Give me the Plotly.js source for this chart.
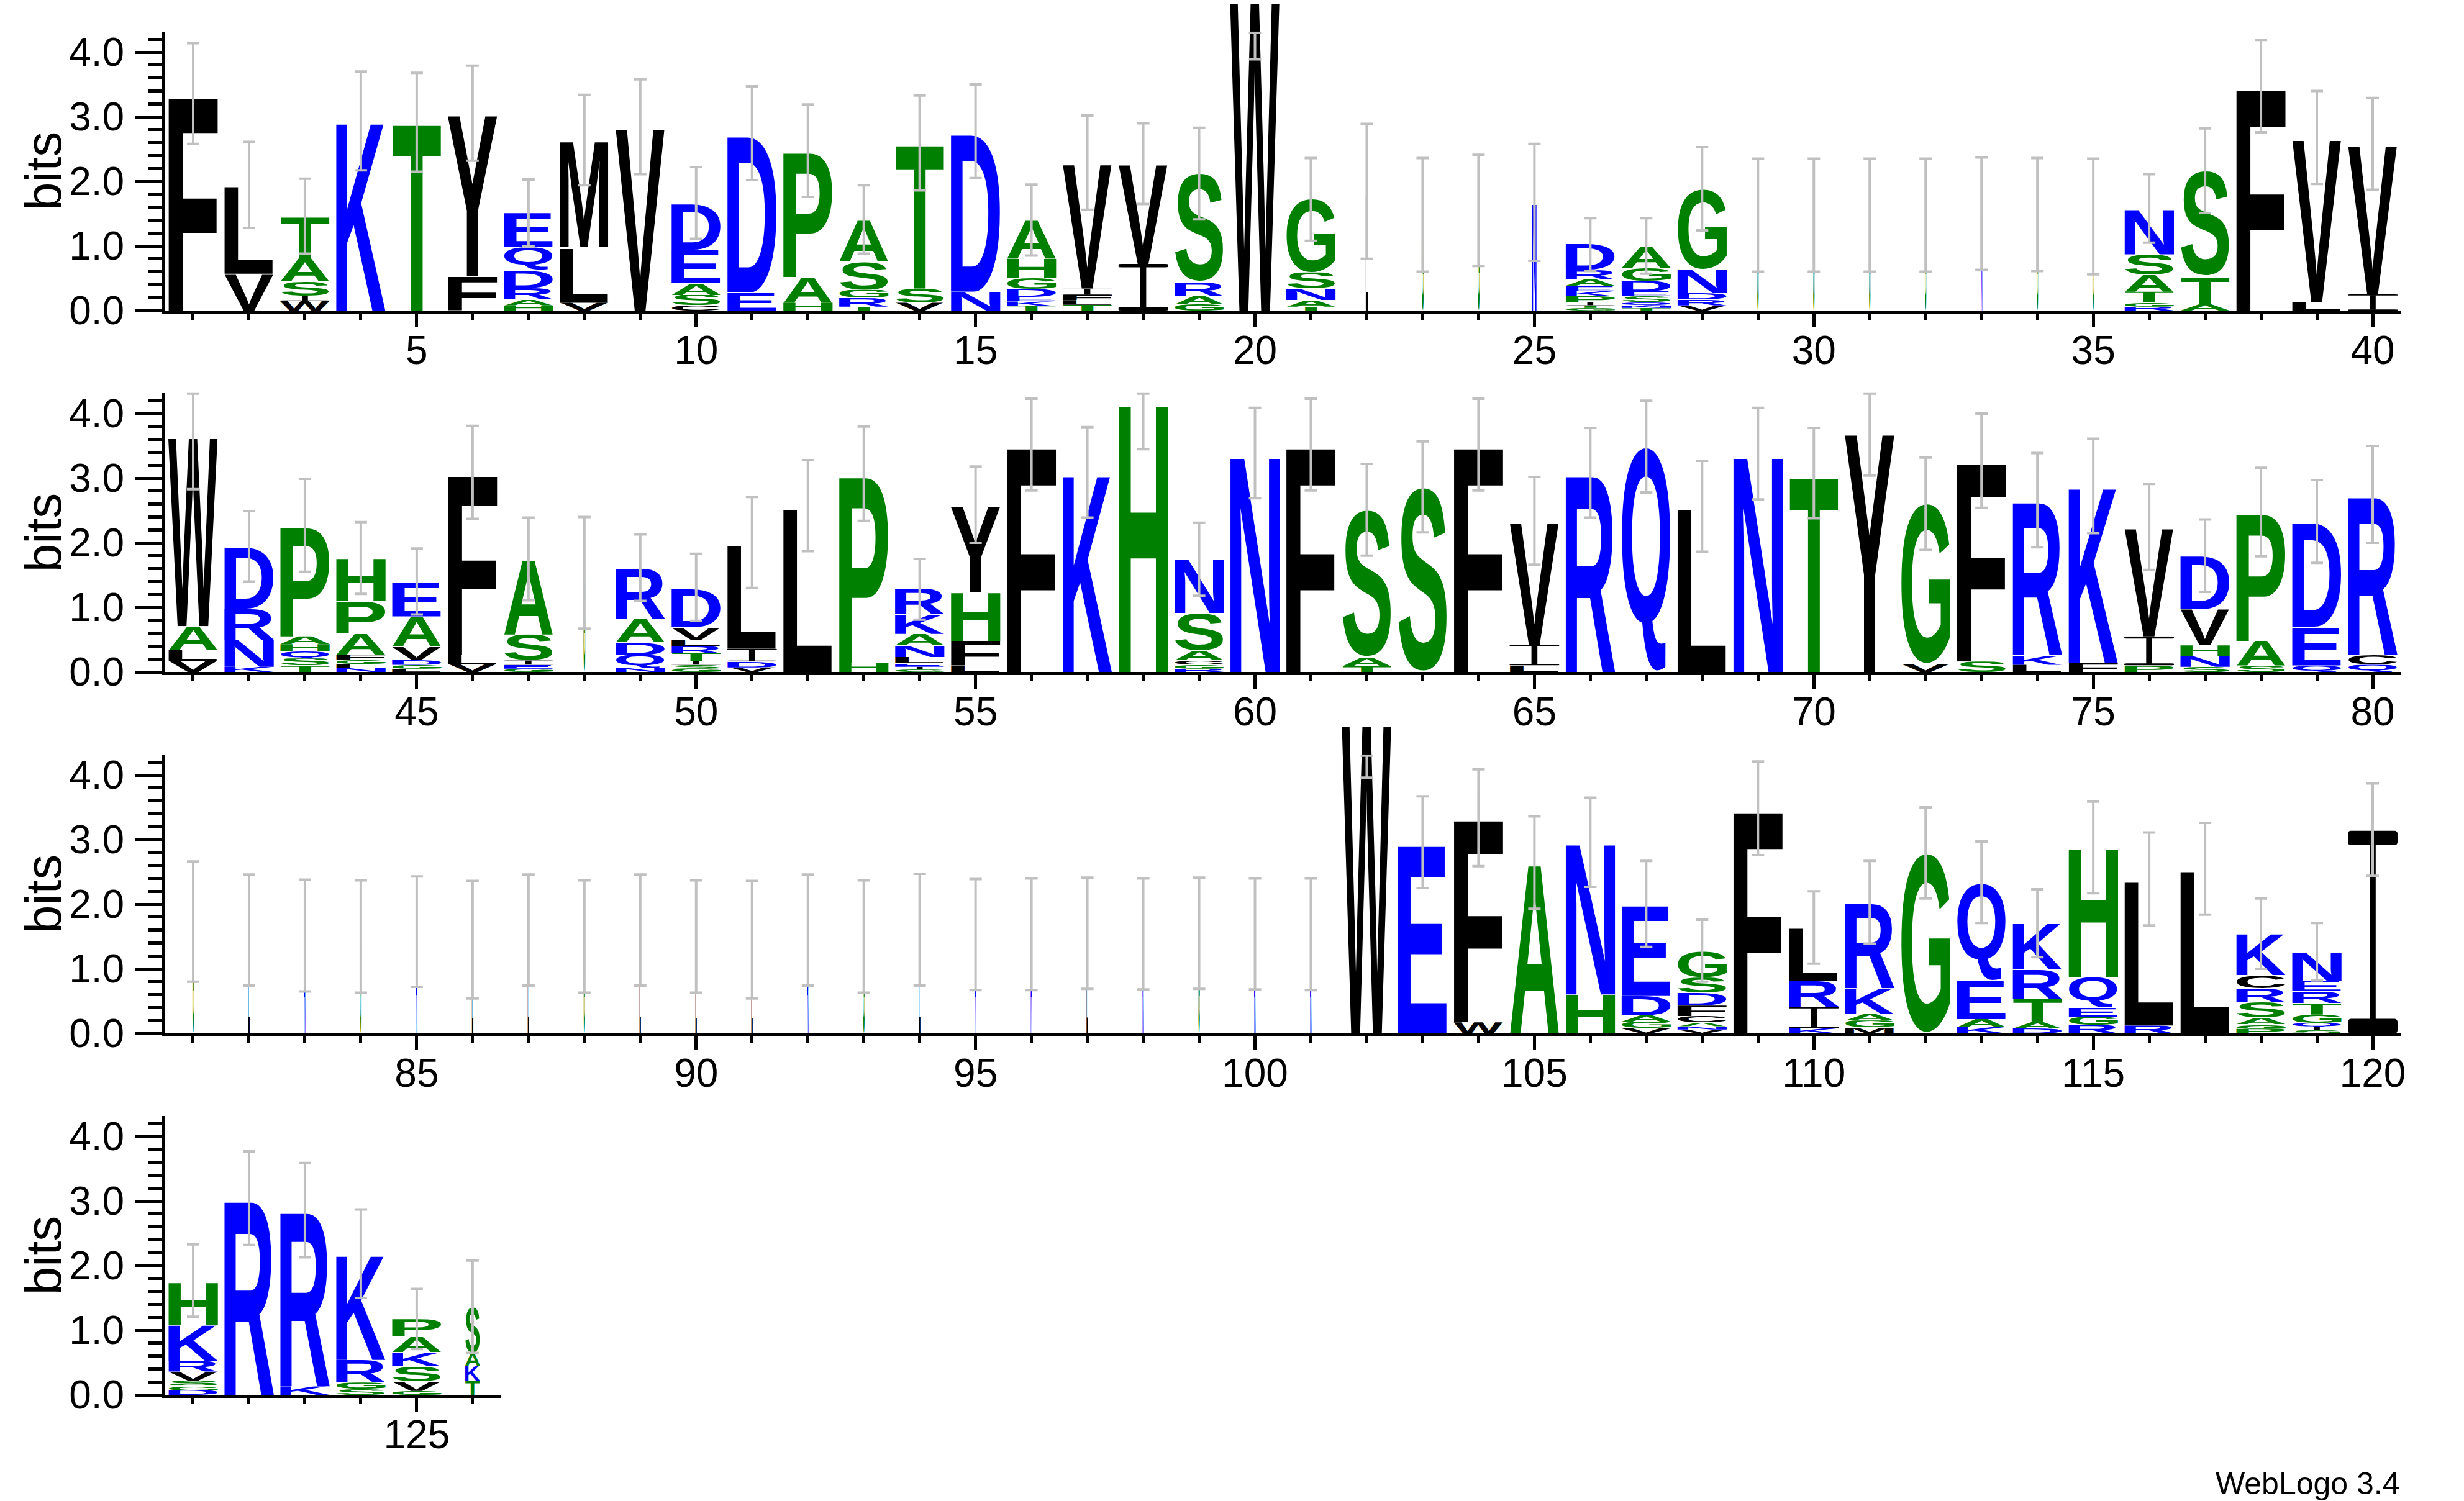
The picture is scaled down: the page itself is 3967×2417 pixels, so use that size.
<!DOCTYPE html>
<html>
<head>
<meta charset="utf-8">
<script src="https://cdn.plot.ly/plotly-3.0.1.min.js"></script>
<style>
html, body { margin: 0; padding: 0; background: #ffffff; }
#chart { width: 3967px; height: 2417px; }
</style>
</head>
<body>
<div id="chart"></div>
<script>
// ---------------- DATA ----------------
// First sequence position of each logo line
const rowStart = [1, 41, 81, 121];

// Stacks: one string per position, letters listed bottom -> top with their height in bits
const row1Stacks = [
  "F3.35", "V0.57 L1.37", "W0.15 I0.08 S0.22 A0.36 T0.64", "K2.94", "T2.92",
  "F0.53 Y2.53", "H0.08 A0.09 R0.18 D0.28 Q0.36 E0.52", "V0.12 L0.86 M1.66", "V2.85", "C0.08 S0.16 A0.18 E0.52 D0.72",
  "E0.28 D2.45", "H0.12 A0.40 P1.95", "T0.06 R0.14 G0.12 S0.44 A0.64", "V0.12 S0.22 T2.25", "N0.29 D2.47",
  "T0.07 K0.07 E0.07 D0.12 G0.17 H0.30 A0.60", "T0.09 L0.07 F0.08 I0.10 V1.95", "I0.72 V1.55", "G0.10 A0.12 R0.22 S1.68", "W4.85",
  "T0.06 A0.10 N0.18 S0.25 G1.14", "L1.82", "G1.47", "G1.54", "N1.67",
  "G0.04 T0.04 I0.05 P0.09 K0.08 E0.08 A0.10 R0.15 D0.40", "T0.04 N0.04 Q0.05 S0.09 E0.08 D0.16 G0.20 A0.33", "V0.08 R0.09 D0.10 N0.37 G1.24", "G1.47", "G1.47",
  "G1.47", "G1.47", "N1.51", "G1.47", "G1.45",
  "R0.06 G0.07 T0.16 A0.26 S0.32 N0.70", "A0.10 T0.43 S1.63", "F3.47", "L0.13 V2.55", "I0.25 V2.33"
];
const row2Stacks = [
  "V0.17 L0.17 A0.37 W2.96", "K0.08 N0.42 R0.48 D0.97", "T0.10 S0.11 Q0.11 H0.11 A0.12 P1.71", "N0.06 L0.06 G0.07 F0.08 A0.33 P0.50 H0.66", "L0.05 G0.06 D0.08 V0.20 A0.47 E0.54",
  "V0.12 L0.15 F2.81", "G0.05 E0.06 I0.07 S0.40 A1.17", "G1.55", "N0.06 Q0.20 D0.20 A0.36 R0.79", "G0.05 S0.06 I0.06 T0.12 R0.11 L0.10 V0.19 D0.61",
  "V0.07 D0.09 I0.20 L1.64", "L2.56", "H0.14 P2.92", "G0.04 I0.04 E0.05 L0.10 N0.18 A0.18 K0.30 R0.40", "L0.10 F0.38 H0.75 Y1.36",
  "F3.52", "K3.08", "H4.19", "R0.05 G0.06 C0.07 A0.15 S0.58 N0.84", "N3.37",
  "F3.52", "T0.09 A0.14 S2.28", "S2.86", "F3.52", "L0.10 I0.32 V1.91",
  "R3.08", "Q3.48", "L2.56", "N3.37", "T3.05",
  "Y3.74", "V0.12 G2.49", "S0.16 F3.11", "L0.11 K0.15 R2.40", "F0.14 K2.74",
  "P0.10 I0.45 V1.70", "S0.08 N0.16 H0.17 V0.56 D0.83", "S0.10 A0.38 P1.99", "Q0.10 E0.60 D1.63", "Q0.11 C0.15 R2.48"
];
const row3Stacks = [
  "G1.73", "L1.59", "R1.51", "G1.50", "R1.58",
  "L1.45", "L1.59", "G1.50", "L1.59", "L1.51",
  "L1.45", "R1.59", "G1.50", "L1.60", "R1.53",
  "R1.53", "L1.54", "R1.53", "G1.54", "R1.53",
  "R1.53", "W4.85", "E2.95", "W0.17 F3.18", "A2.64",
  "H0.60 N2.36", "V0.08 G0.10 A0.10 D0.30 E1.42", "V0.06 N0.05 A0.06 C0.10 F0.16 D0.20 S0.24 G0.40", "F3.48", "K0.08 I0.33 R0.40 L0.83",
  "M0.09 G0.11 A0.10 K0.40 R1.33", "G2.79", "K0.10 A0.12 E0.60 Q1.51", "D0.08 A0.10 T0.35 R0.46 K0.72", "R0.13 G0.13 E0.14 Q0.47 H2.02",
  "R0.12 L2.26", "L2.55", "P0.07 G0.07 A0.10 S0.24 R0.22 C0.20 K0.64", "S0.05 I0.05 Q0.06 G0.13 T0.18 R0.18 E0.16 N0.45", "I3.14"
];
const row4Stacks = [
  "D0.07 G0.07 S0.08 V0.14 R0.17 K0.55 H0.67", "R3.04", "K0.13 R2.73", "S0.09 G0.10 R0.35 K1.63", "G0.06 V0.15 S0.23 K0.22 A0.24 P0.27",
  "T0.22 K0.23 A0.20 S0.71"
];

// Error bars: lower and upper ends (bits)
const row1ErrLow  = [2.58,1.28,0.88,2.17,2.15,2.32,0.99,1.94,2.11,1.11,2.02,1.76,0.88,1.86,2.05,0.85,1.56,1.65,1.41,3.89,1.08,0.80,0.60,0.69,0.77,0.61,0.57,1.24,0.60,0.60,0.60,0.60,0.63,0.61,0.56,1.05,1.51,2.76,1.96,1.87];
const row1ErrHigh = [4.14,2.61,2.04,3.70,3.68,3.79,2.03,3.34,3.58,2.22,3.47,3.19,1.94,3.33,3.50,1.95,3.02,2.90,2.83,4.30,2.36,2.89,2.36,2.41,2.58,1.43,1.43,2.53,2.35,2.35,2.35,2.35,2.37,2.36,2.35,2.11,2.82,4.19,3.40,3.29];
const row2ErrLow  = [2.83,1.40,1.55,1.21,0.89,2.37,1.11,0.67,1.10,0.79,1.30,1.87,2.34,0.81,2.00,2.81,2.39,3.45,1.18,2.69,2.81,1.80,2.16,2.81,1.66,2.39,2.78,1.86,2.67,2.38,3.04,1.89,2.54,1.93,2.15,1.58,1.24,1.79,1.69,2.00];
const row2ErrHigh = [4.31,2.49,2.99,2.32,1.91,3.81,2.39,2.40,2.13,1.83,2.71,3.28,3.80,1.75,3.18,4.23,3.79,4.31,2.31,4.09,4.23,3.22,3.57,4.23,3.02,3.78,4.20,3.27,4.09,3.78,4.31,3.32,4.00,3.39,3.61,2.91,2.36,3.16,2.97,3.50];
const row3ErrLow  = [0.80,0.74,0.65,0.63,0.72,0.54,0.74,0.63,0.74,0.63,0.54,0.74,0.63,0.74,0.67,0.67,0.69,0.68,0.69,0.68,0.67,3.96,2.25,2.59,1.93,2.27,1.34,0.80,2.76,1.08,1.39,2.09,1.71,1.18,2.17,1.67,1.84,1.00,0.82,2.44];
const row3ErrHigh = [2.66,2.46,2.38,2.37,2.43,2.36,2.46,2.37,2.46,2.37,2.36,2.46,2.37,2.47,2.39,2.40,2.41,2.40,2.41,2.40,2.40,4.30,3.67,4.09,3.36,3.65,2.67,1.76,4.21,2.20,2.67,3.50,2.97,2.23,3.59,3.11,3.26,2.09,1.71,3.87];
const row4ErrLow  = [1.21,2.32,2.13,1.50,0.71,0.65];
const row4ErrHigh = [2.33,3.77,3.59,2.87,1.64,2.08];

// Positions whose stacks are drawn narrower (few sequences), with their width fraction
const narrowPositions = [22,23,24,25,29,30,31,32,33,34,35,48,81,82,83,84,85,86,87,88,89,90,91,92,93,94,95,96,97,98,99,100,101,126];
const narrowWidths    = [0.045,0.04,0.04,0.09,0.035,0.035,0.035,0.035,0.035,0.035,0.035,0.04,0.035,0.035,0.035,0.035,0.035,0.035,0.035,0.035,0.035,0.035,0.035,0.035,0.035,0.035,0.035,0.035,0.035,0.035,0.035,0.035,0.035,0.30];

// ---------------- STYLE ----------------
const YMAX = 4.32;
const FIG_W = 3967, FIG_H = 2417;
const PLOT_LEFT = 266, COL_PX = 89.975, BIT_PX = 104;
const baselines = [500, 1082, 1664, 2246];
const FONT = 'Liberation Sans, Arial, Helvetica, sans-serif';
const letterColor = {};
'RKDENQ'.split('').forEach(c => letterColor[c] = '#0000ff');
'SGHTAP'.split('').forEach(c => letterColor[c] = '#008000');
'YVMCLFIW'.split('').forEach(c => letterColor[c] = '#000000');

const glyphCache = {};
function glyphSource(ch) {
  if (glyphCache[ch]) return glyphCache[ch];
  let svg;
  if (ch === 'I') {
    // WebLogo draws I with slab serifs
    svg = '<svg xmlns="http://www.w3.org/2000/svg" width="100" height="1000" viewBox="0 0 100 1000" preserveAspectRatio="none">' +
      '<g fill="' + letterColor[ch] + '">' +
      '<rect x="0" y="0" width="100" height="72" rx="6" ry="16"/>' +
      '<rect x="44" y="50" width="12" height="900"/>' +
      '<rect x="0" y="928" width="100" height="72" rx="6" ry="16"/>' +
      '</g></svg>';
  } else {
    const cv = document.createElement('canvas');
    const ctx = cv.getContext('2d');
    ctx.font = 'bold 1000px "Liberation Sans"';
    const m = ctx.measureText(ch);
    const l = m.actualBoundingBoxLeft, r = m.actualBoundingBoxRight;
    const a = m.actualBoundingBoxAscent, d = m.actualBoundingBoxDescent;
    const w = l + r, h = a + d;
    svg = '<svg xmlns="http://www.w3.org/2000/svg" width="' + w + '" height="' + h +
      '" viewBox="' + (-l) + ' ' + (-a) + ' ' + w + ' ' + h + '" preserveAspectRatio="none">' +
      '<text x="0" y="0" font-family="Liberation Sans, Arial, sans-serif" font-weight="bold" font-size="1000" fill="' +
      letterColor[ch] + '">' + ch + '</text></svg>';
  }
  const src = 'data:image/svg+xml;base64,' + btoa(svg);
  glyphCache[ch] = src;
  return src;
}

function widthFraction(pos) {
  const i = narrowPositions.indexOf(pos);
  return i >= 0 ? narrowWidths[i] : 1;
}

function draw() {
  const rows = [
    {stacks: row1Stacks, lo: row1ErrLow, hi: row1ErrHigh},
    {stacks: row2Stacks, lo: row2ErrLow, hi: row2ErrHigh},
    {stacks: row3Stacks, lo: row3ErrLow, hi: row3ErrHigh},
    {stacks: row4Stacks, lo: row4ErrLow, hi: row4ErrHigh}
  ];
  const traces = [], images = [], annotations = [];
  const layout = {
    width: FIG_W, height: FIG_H,
    margin: {l: 0, r: 0, t: 0, b: 0, pad: 0},
    paper_bgcolor: '#ffffff', plot_bgcolor: 'rgba(0,0,0,0)',
    showlegend: false, hovermode: false,
    font: {family: FONT, size: 64, color: '#000000'}
  };
  rows.forEach((row, ri) => {
    const sfx = ri === 0 ? '' : String(ri + 1);
    const xname = 'xaxis' + sfx, yname = 'yaxis' + sfx;
    const xid = 'x' + sfx, yid = 'y' + sfx;
    const start = rowStart[ri];
    const ncol = ri === 3 ? 6 : 40;
    const xd0 = PLOT_LEFT / FIG_W;
    const xd1 = (PLOT_LEFT + ncol * COL_PX) / FIG_W;
    const yb = (FIG_H - baselines[ri]) / FIG_H;
    const yt = (FIG_H - (baselines[ri] - YMAX * BIT_PX)) / FIG_H;
    layout[xname] = {
      domain: [xd0, xd1], anchor: yid,
      range: [start - 0.5, start + ncol - 0.5],
      showline: true, linewidth: 5, linecolor: '#000000',
      ticks: 'outside', tickmode: 'linear', tick0: 0, dtick: 5,
      ticklen: 22, tickwidth: 5, tickcolor: '#000000',
      minor: {ticks: 'outside', tickmode: 'linear', tick0: 0, dtick: 1, ticklen: 10, tickwidth: 5, tickcolor: '#000000', showgrid: false},
      showgrid: false, zeroline: false, fixedrange: true,
      tickfont: {family: FONT, size: 64, color: '#000000'},
      ticklabelstandoff: -18
    };
    layout[yname] = {
      domain: [yb, yt], anchor: xid, range: [0, YMAX],
      showline: true, linewidth: 5, linecolor: '#000000',
      ticks: 'outside', tickmode: 'linear', tick0: 0, dtick: 1, tickformat: '.1f',
      ticklen: 44, tickwidth: 5, tickcolor: '#000000',
      minor: {ticks: 'outside', tickmode: 'linear', tick0: 0, dtick: 0.2, ticklen: 22, tickwidth: 5, tickcolor: '#000000', showgrid: false},
      showgrid: false, zeroline: false, fixedrange: true,
      tickfont: {family: FONT, size: 64, color: '#000000'},
      ticklabelstandoff: 4
    };
    annotations.push({
      text: 'bits', xref: 'paper', yref: yid + ' domain', x: 69 / FIG_W, y: 0.5,
      textangle: -90, showarrow: false, xanchor: 'center', yanchor: 'middle',
      font: {family: FONT, size: 82, color: '#000000'}
    });
    const xs = [], mids = [], halves = [];
    row.stacks.forEach((s, i) => {
      const pos = start + i;
      const f = widthFraction(pos);
      let base = 0;
      s.split(' ').forEach(tok => {
        const ch = tok[0], h = parseFloat(tok.slice(1));
        images.push({
          source: glyphSource(ch), xref: xid, yref: yid + ' domain',
          x: pos - 0.445 * f, y: base / YMAX, sizex: 0.89 * f, sizey: h / YMAX,
          xanchor: 'left', yanchor: 'bottom', sizing: 'stretch', layer: 'below'
        });
        base += h;
      });
      xs.push(pos);
      mids.push((row.lo[i] + row.hi[i]) / 2);
      halves.push((row.hi[i] - row.lo[i]) / 2);
    });
    traces.push({
      type: 'scatter', mode: 'markers', x: xs, y: mids, xaxis: xid, yaxis: yid,
      marker: {size: 1, opacity: 0}, hoverinfo: 'skip', showlegend: false,
      error_y: {type: 'data', symmetric: true, array: halves, color: '#c0c0c0', thickness: 4, width: 10}
    });
  });
  annotations.push({
    text: 'WebLogo 3.4', xref: 'paper', yref: 'paper', x: 3866 / FIG_W, y: (FIG_H - 2389) / FIG_H,
    xanchor: 'right', yanchor: 'middle', showarrow: false,
    font: {family: FONT, size: 50, color: '#000000'}
  });
  layout.images = images;
  layout.annotations = annotations;
  Plotly.newPlot('chart', traces, layout, {staticPlot: true, displayModeBar: false});
}

if (document.fonts && document.fonts.load) {
  document.fonts.load('bold 100px "Liberation Sans"').then(draw, draw);
} else {
  draw();
}
</script>
</body>
</html>
